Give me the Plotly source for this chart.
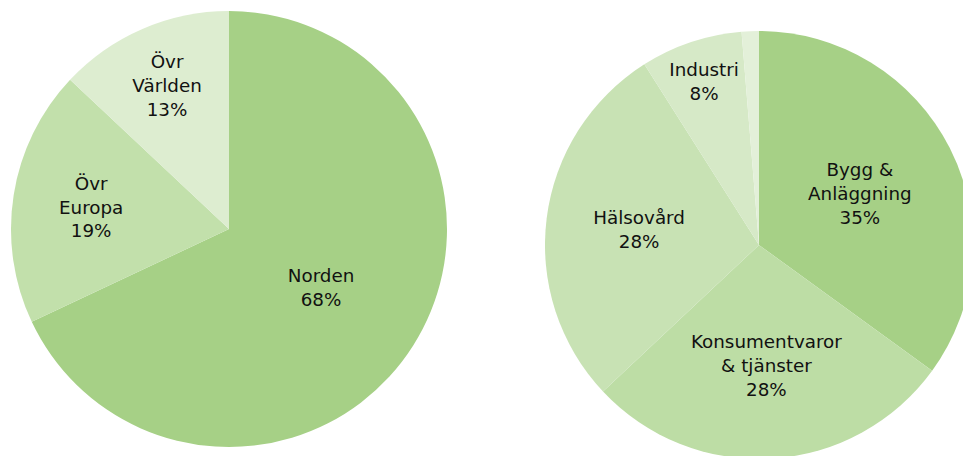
import plotly.graph_objects as go

# Left pie: regions
region_labels = ["Norden", "Övr Europa", "Övr Världen"]
region_text = ["Norden", "Övr<br>Europa", "Övr<br>Världen"]
region_values = [68, 19, 13]
region_colors = ["#a6d086", "#c2e0ab", "#ddedd0"]

# Right pie: sectors
sector_labels = ["Bygg & Anläggning", "Konsumentvaror & tjänster", "Hälsovård", "Industri", "Övrigt"]
sector_text = ["Bygg &<br>Anläggning", "Konsumentvaror<br>& tjänster", "Hälsovård", "Industri", ""]
sector_values = [35, 28, 28, 7.7, 1.3]
sector_colors = ["#a6d086", "#bddda5", "#c8e2b4", "#d6e9c7", "#e3f0d9"]

W, H = 976, 462
FONT = dict(family="DejaVu Sans, Verdana, sans-serif", size=18.5, color="#111111")

fig = go.Figure()
fig.add_trace(go.Pie(
    labels=region_labels, values=region_values, text=region_text,
    texttemplate="%{text}<br>%{percent:.0%}",
    textposition="inside", insidetextorientation="horizontal",
    marker=dict(colors=region_colors, line=dict(width=0)),
    sort=False, direction="clockwise", rotation=0,
    domain=dict(x=[11 / W, 447 / W], y=[1 - 447 / H, 1 - 11 / H]),
    textfont=FONT, showlegend=False, hoverinfo="label+percent",
))
fig.add_trace(go.Pie(
    labels=sector_labels, values=sector_values, text=sector_text,
    texttemplate=["%{text}<br>%{percent:.0%}"] * 4 + [""],
    textposition="inside", insidetextorientation="horizontal",
    marker=dict(colors=sector_colors, line=dict(width=0)),
    sort=False, direction="clockwise", rotation=0,
    domain=dict(x=[545 / W, 973 / W], y=[1 - 459 / H, 1 - 31 / H]),
    textfont=FONT, showlegend=False, hoverinfo="label+percent",
))
fig.update_layout(
    width=W, height=H, margin=dict(l=0, r=0, t=0, b=0),
    paper_bgcolor="white", plot_bgcolor="white",
    uniformtext=dict(minsize=18, mode="show"),
)
fig.write_html("out.html", config={"displayModeBar": False},
               post_script="document.body.style.margin='0';document.body.style.overflow='hidden';document.documentElement.style.overflow='hidden';")
